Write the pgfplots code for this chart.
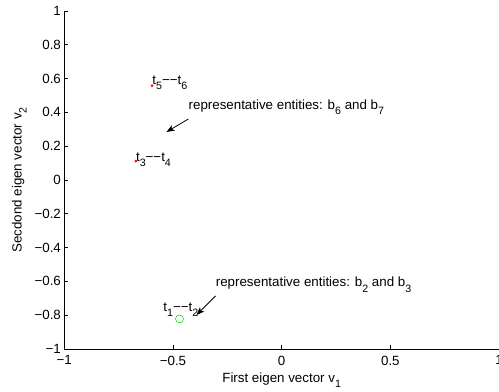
\documentclass[border=0pt]{standalone}
\usepackage{fontspec}
\setmainfont{Liberation Sans}
\usepackage{pgfplots}
\pgfplotsset{compat=1.18}
\usetikzlibrary{arrows.meta}
\newcommand{\sub}[1]{\raisebox{-3.8pt}{\fontsize{8}{9}\selectfont #1}}
\begin{document}
\begin{tikzpicture}
\begin{axis}[
  name=ax,
  at={(0,0)}, anchor=south west,
  scale only axis,
  width=326.1pt, height=253.5pt,
  xmin=-1, xmax=1, ymin=-1, ymax=1,
  axis lines=left,
  axis line style={-, line width=0.5pt},
  tick align=inside,
  major tick length=3pt,
  tick style={line width=0.5pt, black},
  xtick={-1,-0.5,0,0.5,1},
  xticklabels={−1,−0.5,0,0.5,1},
  ytick={-1,-0.8,-0.6,-0.4,-0.2,0,0.2,0.4,0.6,0.8,1},
  yticklabels={−1,−0.8,−0.6,−0.4,−0.2,0,0.2,0.4,0.6,0.8,1},
  ticklabel style={font=\fontsize{10}{11}\selectfont},
  xticklabel style={yshift=-1.5pt},
  yticklabel style={xshift=1pt},
  label style={font=\fontsize{10}{11}\selectfont},
  xlabel={First eigen vector v\sub{1}},
  ylabel={Secdond eigen vector v\sub{2}},
  xlabel style={yshift=1pt},
  ylabel style={yshift=-1pt},
  clip=false,
]
\addplot[only marks, mark=*, mark size=0.8pt, red] coordinates {(-0.596,0.558) (-0.671,0.112)};
\addplot[only marks, mark=o, mark size=3pt, green!85!black, thin] coordinates {(-0.47,-0.822)};
\node[anchor=base west, inner sep=0pt, font=\fontsize{10}{11}\selectfont] at (axis cs:-0.596,0.568) {t\sub{5}−−t\sub{6}};
\node[anchor=base west, inner sep=0pt, font=\fontsize{10}{11}\selectfont] at (axis cs:-0.671,0.112) {t\sub{3}−−t\sub{4}};
\node[anchor=base west, inner sep=0pt, font=\fontsize{10}{11}\selectfont] at (axis cs:-0.545,-0.78) {t\sub{1}−−t\sub{2}};
\node[anchor=base west, inner sep=0pt, font=\fontsize{10}{11}\selectfont] at (axis cs:-0.429,0.42) {representative entities: b\sub{6} and b\sub{7}};
\node[anchor=base west, inner sep=0pt, font=\fontsize{10}{11}\selectfont] at (axis cs:-0.304,-0.633) {representative entities: b\sub{2} and b\sub{3}};
\draw[-{Stealth[length=6pt,width=4.5pt,inset=1.5pt]}, line width=0.6pt] (axis cs:-0.429,0.361) -- (axis cs:-0.53,0.284);
\draw[-{Stealth[length=6pt,width=4.5pt,inset=1.5pt]}, line width=0.6pt] (axis cs:-0.304,-0.686) -- (axis cs:-0.392,-0.799);
\end{axis}
\pgfresetboundingbox
\path[use as bounding box] (-48.2pt,-32.25pt) rectangle (326.05pt,261.75pt);
\end{tikzpicture}
\end{document}
